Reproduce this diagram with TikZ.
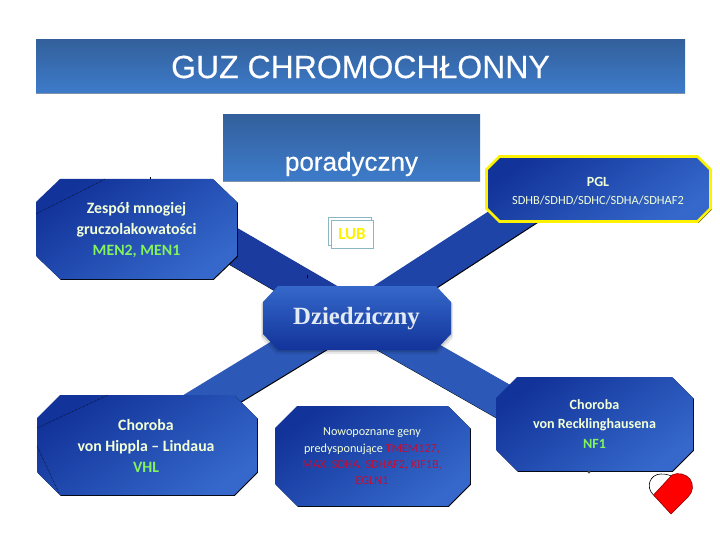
\documentclass[tikz,border=0pt]{standalone}
\usepackage{fontspec}
\setmainfont{Carlito}
\newfontfamily\arialf[FakeBold=0.35]{Liberation Sans}
\newfontfamily\seriff{Liberation Serif}
\definecolor{bdark}{HTML}{12339A}
\definecolor{blight}{HTML}{3568CA}
\definecolor{bandA}{HTML}{1B3C9E}
\definecolor{bandB}{HTML}{1E44A8}
\definecolor{bandC}{HTML}{2C58B8}
\definecolor{paletxt}{HTML}{F2FFD8}
\definecolor{greentxt}{HTML}{82F25E}
\definecolor{redtxt}{HTML}{BE1038}
\definecolor{barTop}{HTML}{33609C}
\definecolor{barBot}{HTML}{3D7CCB}
\definecolor{barEdge}{HTML}{8492A6}
\definecolor{lubline}{HTML}{8DB6C4}
\definecolor{hubtxt}{HTML}{E2EAF4}
\tikzset{
  octafill/.style={top color=bdark,bottom color=blight,shading angle=35},
  octashadow/.style={fill=black,transform canvas={xshift=0.8pt,yshift=-0.8pt}},
  boxtext/.style={inner sep=0pt,outer sep=0pt,align=center,text=paletxt,font=\bfseries\fontsize{15.8}{21}\selectfont},
  bar/.style={shape=rectangle,inner sep=0pt,outer sep=0pt,top color=barTop,bottom color=barBot,text=white},
  band/.style={line width=35.5pt},
  bandshadow/.style={line width=35.5pt,black,transform canvas={xshift=0.7pt,yshift=-0.9pt}},
  dots/.style={black,line width=0.5pt,densely dotted},
  lubbox/.style={draw=lubline,line width=0.6pt,fill=white},
}
% octagon outline: left, top, right, bottom, chamfer x, chamfer y
\newcommand{\octpath}[7][]{\path[#1] (#2+#6,#3) -- (#4-#6,#3) -- (#4,#3+#7) -- (#4,#5-#7) -- (#4-#6,#5) -- (#2+#6,#5) -- (#2,#5-#7) -- (#2,#3+#7) -- cycle;}
\begin{document}
\begin{tikzpicture}[x=1pt,y=-1pt]
\useasboundingbox (0,0) rectangle (720,540);
% title
\node[bar,minimum width=649pt,minimum height=54pt,font=\arialf\fontsize{32}{32}\selectfont] (title) at (360.5,67) {GUZ CHROMOCHŁONNY};
\draw[barEdge,line width=1pt] (title.south west) -- (title.south east);
\node[bar,minimum width=257pt,minimum height=67pt] (por) at (351.5,148.5) {};
\draw[barEdge,line width=1pt] (por.south west) -- (por.south east);
\node[text=white,font=\arialf\fontsize{26}{26}\selectfont,inner sep=0pt] (portxt) at (351.5,164) {poradyczny};
% anchors of the hub and boxes
\coordinate (men) at (136.5,229);
\coordinate (vhl) at (147,445);
\coordinate (nf) at (594.5,424);
\coordinate (pgl) at (598,189);
\coordinate (hub) at (357,318);
% connectors
\draw[bandshadow] ([xshift=53.5pt,yshift=8pt]men) -- (hub);
\draw[band,bandA] ([xshift=53.5pt,yshift=8pt]men) -- (hub);
\draw[bandshadow] ([xshift=-38pt,yshift=3pt]pgl) -- (hub);
\draw[band,bandB] ([xshift=-38pt,yshift=3pt]pgl) -- (hub);
\draw[bandshadow] ([yshift=8pt]hub) -- ([yshift=7pt]vhl);
\draw[band,bandC] ([yshift=8pt]hub) -- ([yshift=7pt]vhl);
\draw[bandshadow] (hub) -- ([xshift=-34pt,yshift=-10pt]nf);
\draw[band,bandC] (hub) -- ([xshift=-34pt,yshift=-10pt]nf);
% boxes
\octpath[octashadow]{36}{179}{237}{279}{24}{23}
\octpath[octafill]{36}{179}{237}{279}{24}{23}
\node[boxtext] (mentxt) at (136.5,230) {Zespół mnogiej\\gruczolakowatości\\\textcolor{greentxt}{MEN2, MEN1}};
\octpath[octashadow]{37}{395}{257}{495}{23}{23}
\octpath[octafill]{37}{395}{257}{495}{23}{23}
\node[boxtext] (vhltxt) at (146,446) {Choroba\\von Hippla – Lindaua\\\textcolor{greentxt}{VHL}};
\octpath[octashadow]{275}{406}{470}{506}{22}{22}
\octpath[octafill]{275}{406}{470}{506}{22}{22}
\node[boxtext,font=\fontsize{12.2}{16.3}\selectfont] (nowetxt) at (372,456.5) {Nowopoznane geny\\predysponujące \textcolor{redtxt}{TMEM127,}\\\textcolor{redtxt}{MAX, SDHA, SDHAF2, KIF1B,}\\\textcolor{redtxt}{EGLN1}};
\octpath[octashadow]{496}{377}{693}{471}{21}{21}
\octpath[octafill]{496}{377}{693}{471}{21}{21}
\node[boxtext,font=\bfseries\fontsize{14.1}{19.5}\selectfont] (nftxt) at (594.5,424) {Choroba\\von Recklinghausena\\\textcolor{greentxt}{NF1}};
% PGL
\octpath[fill=black,transform canvas={xshift=1.2pt,yshift=-1.2pt}]{486.5}{156.5}{710.5}{221.5}{13}{13}
\octpath[octafill,draw=yellow,line width=2.6pt]{486.5}{156.5}{710.5}{221.5}{13}{13}
\node[boxtext,font=\fontsize{12.4}{18}\selectfont] (pgltxt) at (598,191) {\textbf{\fontsize{14}{18}\selectfont PGL}\\SDHB/SDHD/SDHC/SDHA/SDHAF2};
% hub
\octpath[fill=black,opacity=.08,transform canvas={yshift=-3pt}]{261}{285}{453}{351}{15}{16}
\octpath[fill=black,opacity=.12,transform canvas={yshift=-1.5pt}]{262}{286}{452}{350.5}{15}{16}
\octpath[top color=blight,bottom color=bdark]{263}{286}{451}{350}{15}{16}
\node[inner sep=0pt,outer sep=0pt,text=hubtxt,font=\seriff\bfseries\fontsize{24.8}{25}\selectfont] (hubtxt) at (356.5,319) {Dziedziczny};
% LUB
\draw[lubbox] (328,217) rectangle (371,245);
\node[lubbox,minimum width=42pt,minimum height=28pt,inner sep=0pt,text=yellow,font=\bfseries\fontsize{17}{17}\selectfont] (lub) at (352,234) {LUB};
% dotted marks
\draw[dots] (36,214) -- (105,179);
\draw[dots] (37,428) -- (108,395);
\draw[dots] (37,446) -- (59,493);
\draw[black,line width=0.5pt] (150,177.5) -- (150,179);
\draw[black,line width=0.5pt] (307,275) -- (307,278);
\fill[black!70] (589,472) circle (1.6pt);
% heart
\draw[black,line width=0.6pt,fill=white] (653.5,495) .. controls (645,487) and (650,474) .. (661,474) .. controls (666,474) and (670,475) .. (673,477);
\draw[red!55!black,line width=0.6pt,fill=red] (653.5,495) -- (672,475) .. controls (678,472) and (686,474) .. (690,479) .. controls (694,485) and (693,492) .. (688,497) -- (671,514) -- cycle;
\end{tikzpicture}
\end{document}
